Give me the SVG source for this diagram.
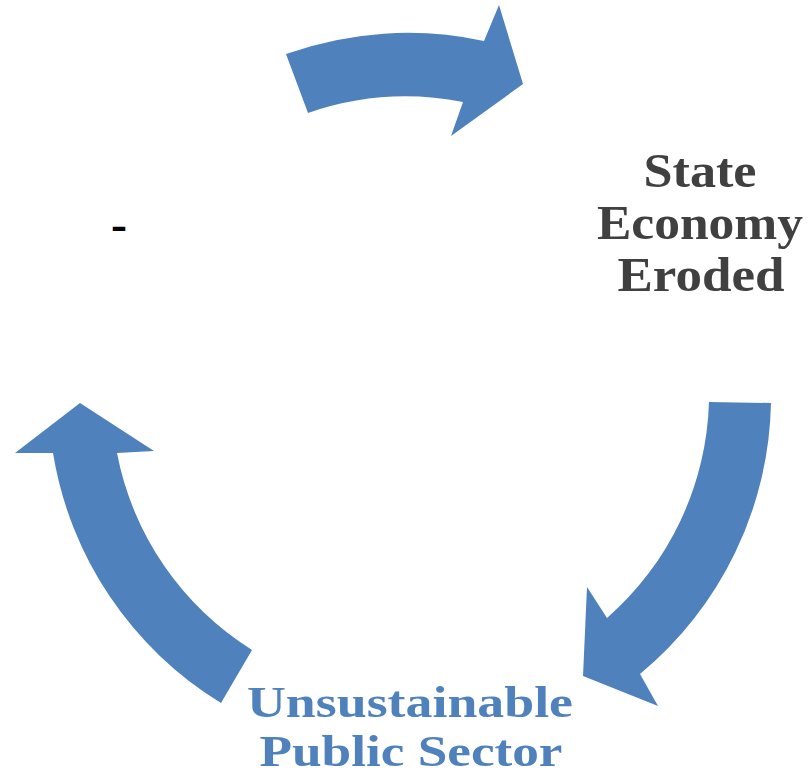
<svg xmlns="http://www.w3.org/2000/svg" width="809" height="777" viewBox="0 0 809 777">
<style>
.arrow{fill:#4F81BD;stroke:none}
.lbl{font-family:"Liberation Serif","Times New Roman",serif;font-weight:bold;font-size:48px;text-anchor:middle}
.dark{fill:#404040}
.blue{fill:#4F81BD;font-size:44px}
</style>
<rect width="809" height="777" fill="#FFFFFF"/>
<g id="connectors">
<path id="arrow-top" class="arrow" d="M286,54 A361,361 0 0 1 484,41 L499,5 L523,84 L451,136 L463,102 A299,299 0 0 0 308,113 Z"/>
<path id="arrow-right" class="arrow" d="M771,403 A361,361 0 0 1 640,674 L658,706 L583,676 L587,587 L607,618 A299,299 0 0 0 709,402 Z"/>
<path id="arrow-left" class="arrow" d="M221,703 A361,361 0 0 1 53,453 L15,453 L80,403 L154,451 L117,453 A299,299 0 0 0 252,650 Z"/>
</g>
<g id="node-left">
<text class="lbl" x="119" y="240" fill="#000000">-</text>
</g>
<g id="node-state">
<text class="lbl dark" x="700" y="187" textLength="113" lengthAdjust="spacingAndGlyphs">State</text>
<text class="lbl dark" x="700" y="239" textLength="206" lengthAdjust="spacingAndGlyphs">Economy</text>
<text class="lbl dark" x="701" y="291" textLength="167" lengthAdjust="spacingAndGlyphs">Eroded</text>
</g>
<g id="node-public">
<text class="lbl blue" x="410" y="717" textLength="326" lengthAdjust="spacingAndGlyphs">Unsustainable</text>
<text class="lbl blue" x="411" y="766" textLength="303" lengthAdjust="spacingAndGlyphs">Public Sector</text>
</g>
</svg>
